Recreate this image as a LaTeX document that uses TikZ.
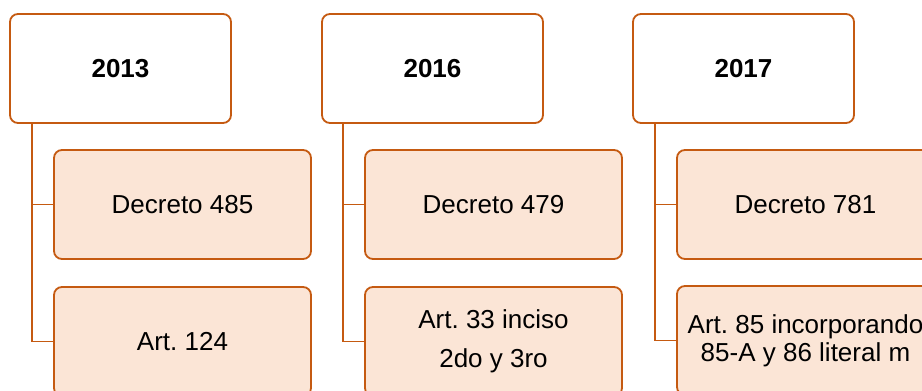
\documentclass[tikz,border=0pt]{standalone}
\usepackage{fontspec}
\setmainfont{Liberation Sans}
\frenchspacing
\definecolor{bord}{RGB}{197,90,17}
\definecolor{peach}{RGB}{251,229,214}
\begin{document}
\begin{tikzpicture}[x=1pt,y=-1pt,
  yearbox/.style={draw=bord,line width=1.8pt,rounded corners=8pt,fill=white,
    minimum width=221pt,minimum height=109pt,inner sep=0pt,outer sep=0pt,
    font=\fontsize{26}{31}\selectfont\bfseries},
  itembox/.style={draw=bord,line width=1.8pt,rounded corners=8pt,fill=peach,
    minimum width=257pt,minimum height=109pt,inner sep=0pt,outer sep=0pt,
    align=center,font=\fontsize{26}{31}\selectfont},
  link/.style={draw=bord,line width=1.8pt}]
\clip (0,0) rectangle (922,391);
\fill[white] (0,0) rectangle (922,391);
% 2013
\node[yearbox] (y1) at (120.5,68.5) {2013};
\node[itembox] (a1) at (182.5,204.5) {Decreto 485};
\node[itembox] (b1) at (182.5,341.5) {Art.\ 124};
% 2016
\node[yearbox] (y2) at (432.5,68.5) {2016};
\node[itembox] (a2) at (493.5,204.5) {Decreto 479};
\node[itembox,font=\fontsize{26}{39}\selectfont] (b2) at (493.5,341.5) {Art.\ 33 inciso\\2do y 3ro};
% 2017
\node[yearbox] (y3) at (743.5,68.5) {2017};
\node[itembox] (a3) at (805.5,204.5) {Decreto 781};
\node[itembox,font=\fontsize{26}{28}\selectfont] (b3) at (805.5,340.5) {Art.\ 85 incorporando\\85-A y 86 literal m};
% connectors
\coordinate (s1) at ([xshift=22pt]y1.south west);
\coordinate (s2) at ([xshift=21pt]y2.south west);
\coordinate (s3) at ([xshift=22pt]y3.south west);
\path[link] (s1) |- (b1.west);
\path[link] (s1 |- a1.west) -- (a1.west);
\path[link] (s2) |- (b2.west);
\path[link] (s2 |- a2.west) -- (a2.west);
\path[link] (s3) |- (b3.west);
\path[link] (s3 |- a3.west) -- (a3.west);
\end{tikzpicture}
\end{document}
